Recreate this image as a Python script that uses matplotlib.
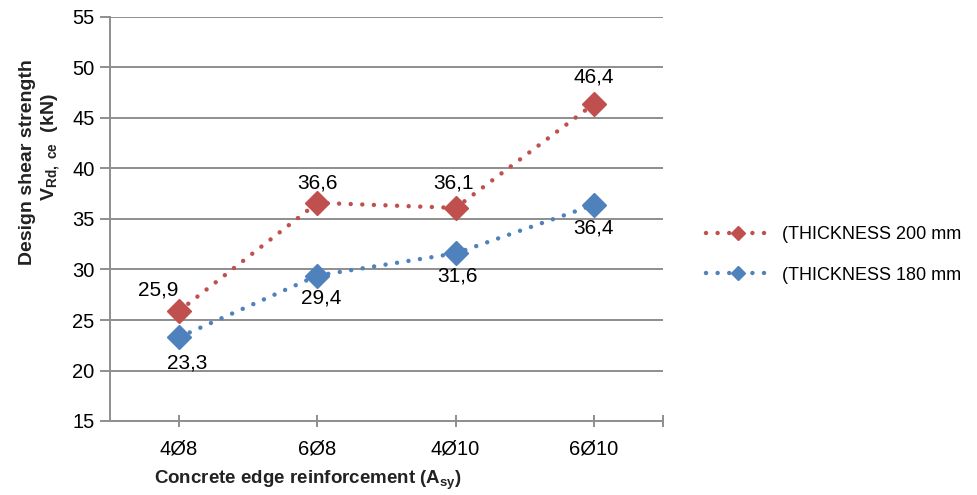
import matplotlib
matplotlib.use("Agg")
import matplotlib.pyplot as plt

# ---------------------------------------------------
# Data
# ---------------------------------------------------

categories = ["4Ø8", "6Ø8", "4Ø10", "6Ø10"]
thick_200 = [25.9, 36.6, 36.1, 46.4]
thick_180 = [23.3, 29.4, 31.6, 36.4]
labels_200 = ["25,9", "36,6", "36,1", "46,4"]
labels_180 = ["23,3", "29,4", "31,6", "36,4"]
yticks = [15, 20, 25, 30, 35, 40, 45, 50, 55]

# label offsets in pixels (from the reference)
off_200 = [(-21, 21), (0, 20), (-2, 25), (0, 27)]
off_180 = [(8, -26), (4, -22), (2, -23), (0, -23)]

RED = "#C0504D"
BLUE = "#4F81BD"
GRID = "#8e8e8e"

# ---------------------------------------------------
# Style
# ---------------------------------------------------

plt.rcParams["font.family"] = ["Liberation Sans", "DejaVu Sans"]
plt.rcParams["mathtext.fontset"] = "custom"
plt.rcParams["mathtext.rm"] = "Liberation Sans"
plt.rcParams["mathtext.bf"] = "Liberation Sans:bold"

fig = plt.figure(figsize=(9.78, 4.95), dpi=100)
ax = fig.add_axes([110 / 978, 1 - 421 / 495, (663 - 110) / 978, (421 - 17) / 495])

x = list(range(len(categories)))
dots = (0, (0.01, 2.6))

ax.plot(x, thick_200, linestyle=dots, dash_capstyle="round", linewidth=3.2,
        color=RED, marker="D", markersize=12, zorder=3,
        label="(THICKNESS 200 mm")
ax.plot(x, thick_180, linestyle=dots, dash_capstyle="round", linewidth=3.2,
        color=BLUE, marker="D", markersize=12, zorder=3,
        label="(THICKNESS 180 mm")

for i in x:
    ax.annotate(labels_200[i], (x[i], thick_200[i]), xytext=off_200[i],
                textcoords="offset pixels", ha="center", va="center", fontsize=15)
    ax.annotate(labels_180[i], (x[i], thick_180[i]), xytext=off_180[i],
                textcoords="offset pixels", ha="center", va="center", fontsize=15)

ax.set_xlim(-0.5, 3.5)
ax.set_ylim(15, 55)
ax.set_yticks(yticks)
ax.set_xticks(x + [3.5])
ax.set_xticklabels(categories + [""])
ax.yaxis.grid(True, color=GRID, linewidth=1.4)
ax.set_axisbelow(True)

for s in ["top", "right"]:
    ax.spines[s].set_visible(False)
for s in ["left", "bottom"]:
    ax.spines[s].set_color(GRID)
    ax.spines[s].set_linewidth(1.4)

ax.tick_params(axis="y", direction="out", length=7, width=1.4, color=GRID,
               labelsize=14.5, pad=4)
ax.tick_params(axis="x", direction="inout", length=9, width=1.4, color=GRID,
               labelsize=14.5, pad=9)

# axis titles
fig.text(28 / 978, 1 - 162 / 495, "Design shear strength", rotation=90,
         ha="center", va="center", fontsize=14, fontweight="bold", color="#222222")
fig.text(51 / 978, 1 - 147 / 495, r"$\mathbf{V_{Rd,\ ce}}$  (kN)", rotation=90,
         ha="center", va="center", fontsize=14, fontweight="bold", color="#222222")
fig.text(308 / 978, 1 - 480 / 495, r"Concrete edge reinforcement (A$_{\mathbf{sy}}$)",
         ha="center", va="center", fontsize=13.5, fontweight="bold", color="#222222")

# legend
ax.legend(loc="center left", bbox_to_anchor=(706 / 978, 1 - 255 / 495),
          bbox_transform=fig.transFigure, frameon=False, fontsize=13,
          handlelength=3.5, handletextpad=0.7, labelspacing=1.3,
          markerscale=0.6, borderaxespad=0, borderpad=0)

fig.savefig("out.png", dpi=100)
